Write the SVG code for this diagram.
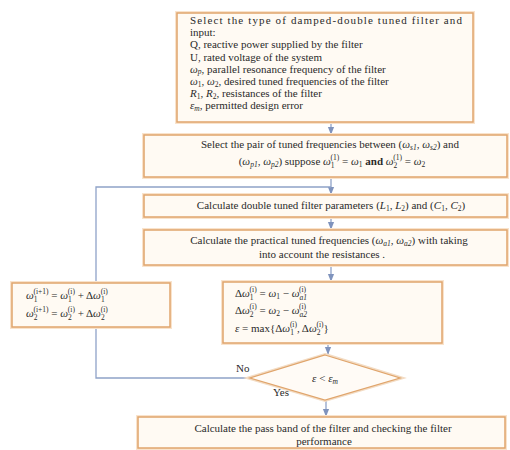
<svg xmlns="http://www.w3.org/2000/svg" width="510" height="450" viewBox="0 0 510 450">
<defs>
<style>
.box{fill:#fffaf3;stroke:#e0a56c;stroke-width:1.5}
.glow{fill:none;stroke:#f9e3cc;stroke-width:4}
.t{font-family:"Liberation Serif","DejaVu Serif",serif;font-size:11px;fill:#2a2a2a}
.c{text-anchor:middle}
.i{font-style:italic}
.s{font-size:7.5px}
.ln{fill:none;stroke:#8fa2c8;stroke-width:1.3}
</style>
<marker id="ar" viewBox="0 0 10 10" refX="9" refY="5" markerWidth="6" markerHeight="6" orient="auto">
<path d="M0,1 L10,5 L0,9 z" fill="#7f93bd"/>
</marker>
</defs>
<rect width="510" height="450" fill="#ffffff"/>

<g id="connectors">
<line class="ln" x1="331" y1="122" x2="331" y2="134" marker-end="url(#ar)"/>
<line class="ln" x1="331" y1="177" x2="331" y2="194" marker-end="url(#ar)"/>
<line class="ln" x1="331" y1="217" x2="331" y2="229" marker-end="url(#ar)"/>
<line class="ln" x1="331" y1="265" x2="331" y2="281" marker-end="url(#ar)"/>
<line class="ln" x1="328" y1="343" x2="328" y2="354" marker-end="url(#ar)"/>
<line class="ln" x1="326" y1="400" x2="326" y2="416" marker-end="url(#ar)"/>
<polyline class="ln" points="250,378 96,378 96,327"/>
<polyline class="ln" points="96,283 96,187 331,187"/>
</g>

<g id="n1">
<rect class="glow" x="177" y="13" width="296" height="109"/>
<rect class="box" x="177" y="13" width="296" height="109"/>
<text class="t" x="190" y="24" textLength="272" lengthAdjust="spacing">Select the type of damped-double tuned filter and</text>
<text class="t" x="190" y="36.2">input:</text>
<text class="t" x="190" y="48.4">Q, reactive power supplied by the filter</text>
<text class="t" x="190" y="60.6">U, rated voltage of the system</text>
<text class="t" x="190" y="72.8"><tspan class="i">ω</tspan><tspan class="s i" dy="1.5">p</tspan><tspan dy="-1.5">, parallel resonance frequency of the filter</tspan></text>
<text class="t" x="190" y="85"><tspan class="i">ω</tspan><tspan class="s" dy="1.5">1</tspan><tspan dy="-1.5">, </tspan><tspan class="i">ω</tspan><tspan class="s" dy="1.5">2</tspan><tspan dy="-1.5">, desired tuned frequencies of the filter</tspan></text>
<text class="t" x="190" y="97.2"><tspan class="i">R</tspan><tspan class="s" dy="1.5">1</tspan><tspan dy="-1.5">, </tspan><tspan class="i">R</tspan><tspan class="s" dy="1.5">2</tspan><tspan dy="-1.5">, resistances of the filter</tspan></text>
<text class="t" x="190" y="109.4"><tspan class="i">ε</tspan><tspan class="s i" dy="1.5">m</tspan><tspan dy="-1.5">, permitted design error</tspan></text>
</g>

<g id="n2">
<rect class="glow" x="144" y="135" width="363" height="42"/>
<rect class="box" x="144" y="135" width="363" height="42"/>
<text class="t c" x="330" y="148">Select the pair of tuned frequencies between (<tspan class="i">ω</tspan><tspan class="s i" dy="2">s1</tspan><tspan dy="-2">, </tspan><tspan class="i">ω</tspan><tspan class="s i" dy="2">s2</tspan><tspan dy="-2">) and</tspan></text>
<text class="t c" x="332" y="165">(<tspan class="i">ω</tspan><tspan class="s i" dy="2">p1</tspan><tspan dy="-2">, </tspan><tspan class="i">ω</tspan><tspan class="s i" dy="2">p2</tspan><tspan dy="-2">) suppose </tspan><tspan class="i">ω</tspan><tspan class="s" dy="3">1</tspan><tspan class="s" dx="-4" dy="-8">(1)</tspan><tspan dy="5"> = </tspan><tspan class="i">ω</tspan><tspan class="s" dy="2">1</tspan><tspan dy="-2" font-weight="bold"> and </tspan><tspan class="i">ω</tspan><tspan class="s" dy="3">2</tspan><tspan class="s" dx="-4" dy="-8">(1)</tspan><tspan dy="5"> = </tspan><tspan class="i">ω</tspan><tspan class="s" dy="2">2</tspan></text>
</g>

<g id="n3">
<rect class="glow" x="144" y="195" width="363" height="22"/>
<rect class="box" x="144" y="195" width="363" height="22"/>
<text class="t c" x="331" y="209">Calculate double tuned filter parameters (<tspan class="i">L</tspan><tspan class="s" dy="2">1</tspan><tspan dy="-2">, </tspan><tspan class="i">L</tspan><tspan class="s" dy="2">2</tspan><tspan dy="-2">) and (</tspan><tspan class="i">C</tspan><tspan class="s" dy="2">1</tspan><tspan dy="-2">, </tspan><tspan class="i">C</tspan><tspan class="s" dy="2">2</tspan><tspan dy="-2">)</tspan></text>
</g>

<g id="n4">
<rect class="glow" x="144" y="230" width="363" height="35"/>
<rect class="box" x="144" y="230" width="363" height="35"/>
<text class="t c" x="329" y="244">Calculate the practical tuned frequencies (<tspan class="i">ω</tspan><tspan class="s i" dy="2">a1</tspan><tspan dy="-2">, </tspan><tspan class="i">ω</tspan><tspan class="s i" dy="2">a2</tspan><tspan dy="-2">) with taking</tspan></text>
<text class="t c" x="322" y="258">into account the resistances .</text>
</g>

<g id="n5">
<rect class="glow" x="12" y="283" width="158" height="44"/>
<rect class="box" x="12" y="283" width="158" height="44"/>
<text class="t" x="26" y="299"><tspan class="i">ω</tspan><tspan class="s" dy="3">1</tspan><tspan class="s" dx="-4" dy="-8">(i+1)</tspan><tspan dy="5"> = </tspan><tspan class="i">ω</tspan><tspan class="s" dy="3">1</tspan><tspan class="s" dx="-4" dy="-8">(i)</tspan><tspan dy="5"> + Δ</tspan><tspan class="i">ω</tspan><tspan class="s" dy="3">1</tspan><tspan class="s" dx="-4" dy="-8">(i)</tspan></text>
<text class="t" x="26" y="317"><tspan class="i">ω</tspan><tspan class="s" dy="3">2</tspan><tspan class="s" dx="-4" dy="-8">(i+1)</tspan><tspan dy="5"> = </tspan><tspan class="i">ω</tspan><tspan class="s" dy="3">2</tspan><tspan class="s" dx="-4" dy="-8">(i)</tspan><tspan dy="5"> + Δ</tspan><tspan class="i">ω</tspan><tspan class="s" dy="3">2</tspan><tspan class="s" dx="-4" dy="-8">(i)</tspan></text>
</g>

<g id="n6">
<rect class="glow" x="223" y="282" width="219" height="61"/>
<rect class="box" x="223" y="282" width="219" height="61"/>
<text class="t" x="235" y="297">Δ<tspan class="i">ω</tspan><tspan class="s" dy="3">1</tspan><tspan class="s" dx="-4" dy="-8">(i)</tspan><tspan dy="5"> = </tspan><tspan class="i">ω</tspan><tspan class="s" dy="2">1</tspan><tspan dy="-2"> − </tspan><tspan class="i">ω</tspan><tspan class="s i" dy="3">a1</tspan><tspan class="s" dx="-8" dy="-8">(i)</tspan></text>
<text class="t" x="235" y="314">Δ<tspan class="i">ω</tspan><tspan class="s" dy="3">2</tspan><tspan class="s" dx="-4" dy="-8">(i)</tspan><tspan dy="5"> = </tspan><tspan class="i">ω</tspan><tspan class="s" dy="2">2</tspan><tspan dy="-2"> − </tspan><tspan class="i">ω</tspan><tspan class="s i" dy="3">a2</tspan><tspan class="s" dx="-8" dy="-8">(i)</tspan></text>
<text class="t" x="235" y="332"><tspan class="i">ε</tspan> = max{Δ<tspan class="i">ω</tspan><tspan class="s" dy="3">1</tspan><tspan class="s" dx="-4" dy="-8">(i)</tspan><tspan dy="5">, Δ</tspan><tspan class="i">ω</tspan><tspan class="s" dy="3">2</tspan><tspan class="s" dx="-4" dy="-8">(i)</tspan><tspan dy="5">}</tspan></text>
</g>

<g id="n7">
<polygon points="325,355 400,378 325,400 250,378" fill="#fffbf6" stroke="#f3dcc4" stroke-width="4"/>
<polygon points="325,355 400,378 325,400 250,378" fill="#fffbf6" stroke="#e0a56c" stroke-width="1.3"/>
<text class="t c" x="325" y="382"><tspan class="i">ε</tspan> &lt; <tspan class="i">ε</tspan><tspan class="s i" dy="2">m</tspan></text>
<text class="t" x="236" y="372">No</text>
<text class="t" x="273" y="396">Yes</text>
</g>

<g id="n8">
<rect class="glow" x="138" y="417" width="367" height="31"/>
<rect class="box" x="138" y="417" width="367" height="31"/>
<text class="t c" x="323" y="432">Calculate the pass band of the filter and checking the filter</text>
<text class="t c" x="324" y="445">performance</text>
</g>
</svg>
